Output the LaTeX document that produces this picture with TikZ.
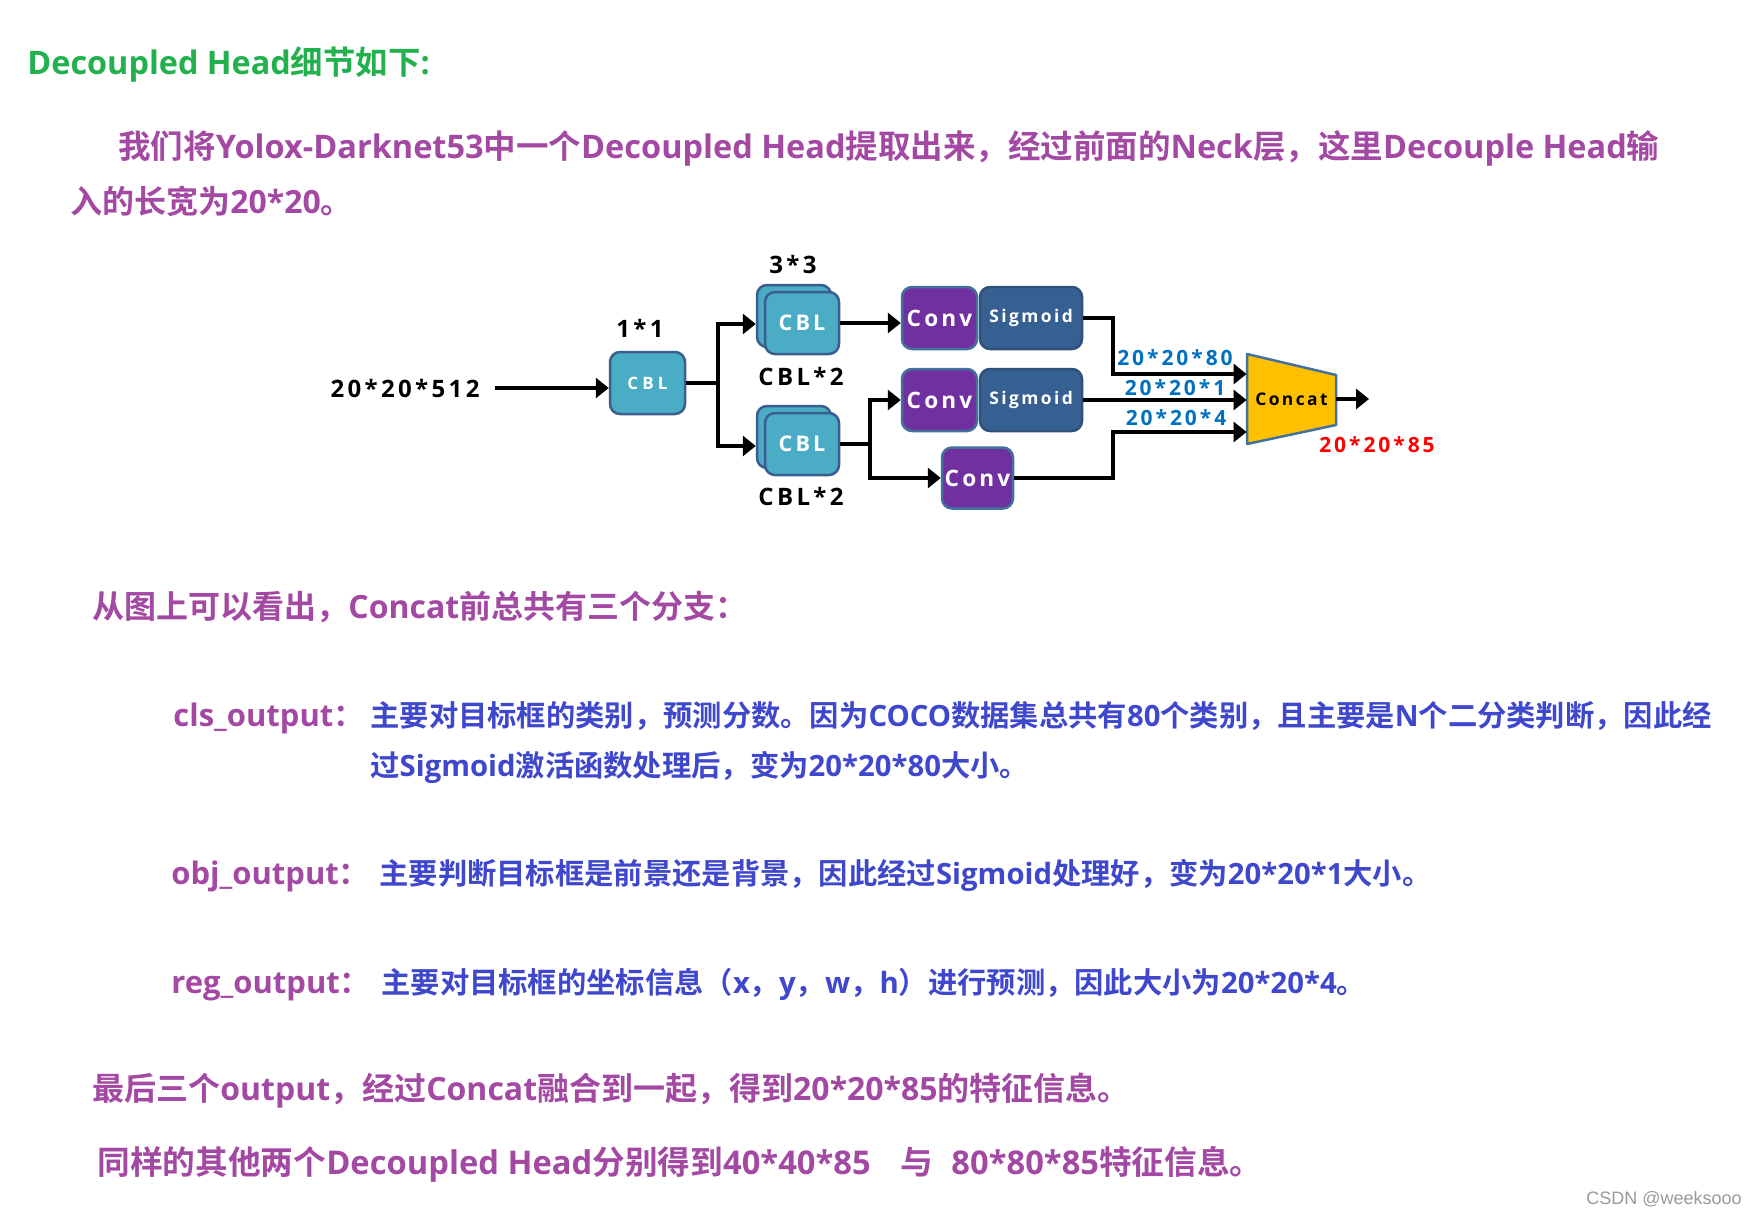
\documentclass[tikz,border=0pt]{standalone}
\usepackage{fontspec}
\usetikzlibrary{arrows.meta}
\newfontfamily\cjk{Noto Sans CJK SC}[UprightFont=* Bold]
\newfontfamily\lat{Open Sans}[UprightFont=* Bold]
\newfontfamily\dgf{Open Sans}[UprightFont=* Bold, LetterSpace=14]
\newfontfamily\dgw{Open Sans}[UprightFont=* Bold, LetterSpace=24]
\newfontfamily\wmf{Liberation Sans}
\newcommand\ltn[1]{{\lat #1}}
\definecolor{ttlgreen}{HTML}{22B14C}
\definecolor{ppl}{HTML}{A349A4}
\definecolor{blu}{HTML}{3F48CC}
\definecolor{cblfill}{HTML}{4BACC6}
\definecolor{cblline}{HTML}{3A5F8F}
\definecolor{convfill}{HTML}{7030A0}
\definecolor{sigfill}{HTML}{376092}
\definecolor{boxline}{HTML}{41719C}
\definecolor{catfill}{HTML}{FFC000}
\definecolor{lblue}{HTML}{0070C0}
\tikzset{
  ptxt/.style={anchor=base west, inner sep=0pt, text=ppl, font=\cjk\fontsize{16pt}{19pt}\selectfont},
  ltxt/.style={anchor=base west, inner sep=0pt, text=ppl, font=\cjk\fontsize{15.5pt}{19pt}\selectfont},
  btxt/.style={anchor=base west, inner sep=0pt, text=blu, font=\cjk\fontsize{14.65pt}{18pt}\selectfont},
  dlabel/.style={inner sep=0pt, text=black, font=\dgf\fontsize{12pt}{14pt}\selectfont},
  slabel/.style={inner sep=0pt, text=lblue, font=\dgf\fontsize{10.5pt}{12pt}\selectfont},
  boxbase/.style={draw=boxline, line width=1.25pt, rounded corners=5pt, inner sep=0pt, text=white, minimum height=31pt},
  cblbox/.style={boxbase, draw=cblline, fill=cblfill, minimum width=37pt},
  convbox/.style={boxbase, fill=convfill, minimum width=37.5pt, font=\dgf\fontsize{11.3pt}{13pt}\selectfont},
  sigbox/.style={boxbase, draw=sigfill!85!black, fill=sigfill, minimum width=51pt, font=\dgf\fontsize{8.7pt}{10pt}\selectfont},
  ln/.style={line width=2pt, black},
  arr/.style={line width=2pt, black, -{Triangle[length=6.5pt,width=10pt]}},
}
\begin{document}
\begin{tikzpicture}[x=0.5pt,y=-0.5pt]
\useasboundingbox[fill=white] (0,0) rectangle (1756,1215);

% ---------- text above ----------
\node[anchor=base west, inner sep=0pt, text=ttlgreen, font=\lat\fontsize{16.2pt}{19pt}\selectfont] (title) at (27,74) {Decoupled Head{\cjk 细节如下}:};
\node[ptxt, font=\cjk\fontsize{16.25pt}{19pt}\selectfont] (p1) at (118,158) {我们将\ltn{Yolox-Darknet53}中一个\ltn{Decoupled Head}提取出来，经过前面的\ltn{Neck}层，这里\ltn{Decouple Head}输};
\node[ptxt] (p2) at (70,213) {入的长宽为\ltn{20*20}。};

% ---------- diagram ----------
\node[dlabel] (in) at (405,388) {20*20*512};
\node[cblbox, minimum width=37.5pt, font=\dgw\fontsize{8.5pt}{10pt}\selectfont] (cbl1) at (647.5,383) {CBL};
\node[dlabel] (k11) at (640,328) {1*1};

\node[cblbox] (cbl2b) at (794,316) {};
\node[cblbox, font=\dgf\fontsize{10.8pt}{12pt}\selectfont] (cbl2) at (802,323) {CBL};
\node[dlabel] (k33) at (793,264) {3*3};
\node[dlabel] (cblx1) at (801,376) {CBL*2};

\node[cblbox] (cbl3b) at (794,437) {};
\node[cblbox, font=\dgf\fontsize{10.8pt}{12pt}\selectfont] (cbl3) at (802,444) {CBL};
\node[dlabel] (cblx2) at (801,496) {CBL*2};

\node[convbox] (conv1) at (939.5,318) {Conv};
\node[sigbox] (sig1) at (1031,318) {Sigmoid};
\node[convbox] (conv2) at (939.5,400) {Conv};
\node[sigbox] (sig2) at (1031,400) {Sigmoid};
\node[convbox, minimum width=35.5pt, minimum height=30.5pt] (conv3) at (977.5,478) {Conv};

\draw[draw=boxline, fill=catfill, line width=1.25pt, line join=round] (1247,354) -- (1336,375) -- (1336,425) -- (1247,444) -- cycle;
\node[inner sep=0pt, minimum width=44.5pt, minimum height=45pt, text=black, font=\dgf\fontsize{8.7pt}{10pt}\selectfont] (concat) at (1291.5,399) {Concat};

\node[slabel] (l80) at (1175,358) {20*20*80};
\node[slabel] (l1) at (1175,388) {20*20*1};
\node[slabel] (l4) at (1176,418) {20*20*4};
\node[slabel, text=red] (l85) at (1377,445) {20*20*85};

\coordinate (j1top) at (718,324);
\coordinate (j1bot) at (718,446);
\coordinate (j2top) at (870,400);
\coordinate (j2bot) at (870,478);
\coordinate (k1) at (1113,374);
\coordinate (k3) at (1113,432);
\coordinate (outp) at (1369,399);

\draw[arr] ([xshift=7.5pt]in.east) -- (in.east -| cbl1.west);
\draw[arr] (cbl1.east) -| (j1top) -- (j1top -| cbl2b.west);
\draw[arr] (cbl1.east) -| (j1bot) -- (j1bot -| cbl3b.west);
\draw[arr] (cbl2.east) -- (cbl2.east -| conv1.west);
\draw[arr] (cbl3.east) -| (j2top) -- (j2top -| conv2.west);
\draw[arr] (cbl3.east) -| (j2bot) -- (j2bot -| conv3.west);
\draw[arr] (sig1.east) -| (k1) -- (k1 -| concat.west);
\draw[arr] (sig2.east) -- (sig2.east -| concat.west);
\draw[arr] (conv3.east) -| (k3) -- (k3 -| concat.west);
\draw[arr] (concat.east) -- (outp);

% ---------- text below ----------
\node[ptxt] (p3) at (92,618) {从图上可以看出，\ltn{Concat}前总共有三个分支：};

\node[ltxt] (cls) at (173,726) {\ltn{cls\_output}：};
\node[btxt] (cls1) at (370,726) {主要对目标框的类别，预测分数。因为\ltn{COCO}数据集总共有\ltn{80}个类别，且主要是\ltn{N}个二分类判断，因此经};
\node[btxt] (cls2) at (370,776) {过\ltn{Sigmoid}激活函数处理后，变为\ltn{20*20*80}大小。};

\node[ltxt] (obj) at (171,884) {\ltn{obj\_output}：};
\node[btxt] (obj1) at (379,884) {主要判断目标框是前景还是背景，因此经过\ltn{Sigmoid}处理好，变为\ltn{20*20*1}大小。};

\node[ltxt] (reg) at (171,993) {\ltn{reg\_output}：};
\node[btxt] (reg1) at (381,993) {主要对目标框的坐标信息（\ltn{x}，\ltn{y}，\ltn{w}，\ltn{h}）进行预测，因此大小为\ltn{20*20*4}。};

\node[ptxt] (p4) at (92,1100) {最后三个\ltn{output}，经过\ltn{Concat}融合到一起，得到\ltn{20*20*85}的特征信息。};
\node[ptxt, font=\cjk\fontsize{16.35pt}{19pt}\selectfont] (p5) at (97,1174) {同样的其他两个\ltn{Decoupled Head}分别得到\ltn{40*40*85}\hspace{15pt}与\hspace{9pt}\ltn{80*80*85}特征信息。};

\node[anchor=base east, inner sep=0pt, text=black!40, font=\wmf\fontsize{9pt}{11pt}\selectfont] (wm) at (1742,1204) {CSDN @weeksooo};
\end{tikzpicture}
\end{document}
